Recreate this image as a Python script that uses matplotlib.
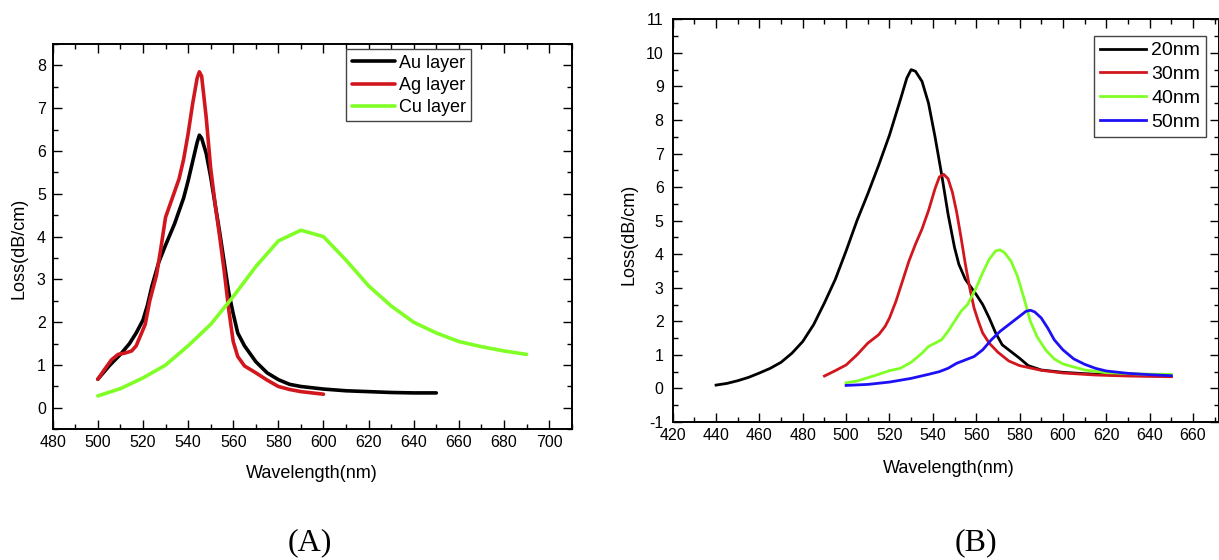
import matplotlib
matplotlib.use("Agg")
import matplotlib.pyplot as plt
from matplotlib.ticker import MultipleLocator

plt.rcParams['font.family'] = ['Liberation Sans', 'DejaVu Sans']
plt.rcParams['axes.unicode_minus'] = False

# (A) loss vs wavelength for different metal layers
au_x = [500, 505, 510, 514, 517, 520, 522, 524, 527, 530, 534, 538, 540, 542, 544, 545, 546,
        548, 550, 552, 554, 556, 558, 560, 562, 565, 570, 575, 580, 585, 590, 600, 610, 620,
        630, 640, 650]
au_y = [0.67, 0.98, 1.25, 1.5, 1.75, 2.05, 2.4, 2.85, 3.4, 3.8, 4.3, 4.9, 5.3, 5.75, 6.2, 6.37, 6.3,
        5.95, 5.4, 4.75, 4.1, 3.4, 2.7, 2.2, 1.75, 1.45, 1.08, 0.82, 0.66, 0.55, 0.5, 0.44, 0.4, 0.38,
        0.36, 0.35, 0.35]

ag_x = [500, 503, 506, 509, 512, 515, 517, 519, 521, 523, 526, 528, 530, 533, 536, 538, 540, 542,
        544, 545, 546, 548, 550, 552, 554, 556, 558, 560, 562, 565, 570, 575, 580, 585, 590, 595, 600]
ag_y = [0.67, 0.9, 1.12, 1.25, 1.28, 1.33, 1.45, 1.7, 1.95, 2.5, 3.1, 3.75, 4.45, 4.9, 5.35, 5.8, 6.4, 7.1,
        7.7, 7.85, 7.75, 6.8, 5.6, 4.75, 4.0, 3.2, 2.3, 1.55, 1.2, 0.98, 0.82, 0.65, 0.5, 0.43, 0.38, 0.35, 0.32]

cu_x = [500, 510, 520, 530, 540, 550, 560, 570, 580, 590, 600, 610, 620, 630, 640, 650, 660, 670, 680, 690]
cu_y = [0.28, 0.45, 0.7, 1.0, 1.45, 1.95, 2.6, 3.3, 3.9, 4.15, 4.0, 3.45, 2.85, 2.38, 2.0, 1.75, 1.55,
        1.43, 1.33, 1.25]

# (B) loss vs wavelength for different layer thickness
nm20_x = [440, 445, 450, 455, 460, 465, 470, 475, 480, 485, 490, 495, 500, 505, 510, 515, 520, 525,
          528, 530, 532, 535, 538, 541, 544, 547, 550, 552, 555, 558, 560, 563, 566, 569, 572, 576,
          580, 584, 590, 600, 610, 620, 635, 650]
nm20_y = [0.1, 0.15, 0.23, 0.33, 0.46, 0.6, 0.78, 1.05, 1.4, 1.9, 2.55, 3.25, 4.1, 5.0, 5.8, 6.65, 7.55,
          8.6, 9.25, 9.5, 9.45, 9.15, 8.5, 7.5, 6.4, 5.2, 4.2, 3.7, 3.25, 2.98, 2.8, 2.5, 2.1, 1.65, 1.3,
          1.1, 0.9, 0.68, 0.55, 0.48, 0.44, 0.41, 0.38, 0.37]

nm30_x = [490, 495, 500, 505, 510, 515, 518, 520, 523, 526, 529, 532, 535, 538, 541, 543, 545, 547,
          549, 551, 553, 555, 557, 559, 561, 563, 566, 570, 575, 580, 590, 600, 615, 630, 650]
nm30_y = [0.37, 0.53, 0.7, 1.0, 1.35, 1.6, 1.85, 2.1, 2.6, 3.2, 3.8, 4.3, 4.75, 5.3, 5.95, 6.3, 6.38, 6.25,
          5.85, 5.25, 4.5, 3.7, 3.0, 2.4, 2.0, 1.65, 1.35, 1.08, 0.82, 0.68, 0.54, 0.46, 0.4, 0.37, 0.35]

nm40_x = [500, 505, 510, 515, 520, 525, 530, 535, 538, 541, 544, 547, 550, 553, 556, 558, 560, 563,
          566, 569, 571, 573, 576, 579, 582, 585, 588, 592, 596, 600, 610, 620, 635, 650]
nm40_y = [0.17, 0.22, 0.32, 0.42, 0.53, 0.6, 0.78, 1.05, 1.25, 1.35, 1.45, 1.7, 2.0, 2.3, 2.5, 2.75, 3.0,
          3.45, 3.85, 4.1, 4.13, 4.05, 3.8, 3.35, 2.7, 2.0, 1.55, 1.15, 0.88, 0.73, 0.55, 0.47, 0.43, 0.42]

nm50_x = [500, 510, 520, 530, 538, 543, 547, 551, 555, 559, 563, 567, 571, 575, 579, 583, 585, 587,
          590, 593, 596, 600, 605, 610, 615, 620, 630, 640, 650]
nm50_y = [0.09, 0.12, 0.19, 0.3, 0.42, 0.5, 0.6, 0.75, 0.85, 0.95, 1.15, 1.45, 1.7, 1.9, 2.1, 2.3, 2.33,
          2.28, 2.1, 1.8, 1.45, 1.15, 0.88, 0.72, 0.6, 0.52, 0.45, 0.41, 0.38]

black = '#000000'
red = '#d2161e'
green = '#80ff26'
blue = '#1e10f5'


def style_axes(ax, xmaj, ymaj, ypad):
    ax.xaxis.set_major_locator(MultipleLocator(xmaj))
    ax.xaxis.set_minor_locator(MultipleLocator(xmaj / 2))
    ax.yaxis.set_major_locator(MultipleLocator(ymaj))
    ax.yaxis.set_minor_locator(MultipleLocator(ymaj / 2))
    ax.tick_params(which='both', direction='in', top=True, right=True, width=1.0)
    ax.tick_params(which='major', length=6.5, labelsize=11.5)
    ax.tick_params(which='minor', length=3.5)
    ax.tick_params(axis='x', pad=4)
    ax.tick_params(axis='y', pad=ypad)
    for s in ax.spines.values():
        s.set_linewidth(1.4)


fig = plt.figure(figsize=(12.19, 5.6), dpi=100)

# panel A
ax1 = fig.add_axes([0.04323, 0.23339, 0.42576, 0.68804])
ax1.plot(au_x, au_y, color=black, lw=2.6, label='Au layer', solid_capstyle='round')
ax1.plot(ag_x, ag_y, color=red, lw=2.6, label='Ag layer', solid_capstyle='round')
ax1.plot(cu_x, cu_y, color=green, lw=2.6, label='Cu layer', solid_capstyle='round')
ax1.set_xlim(480, 710)
ax1.set_ylim(-0.5, 8.5)
style_axes(ax1, 20, 1, 5)
ax1.set_xlabel('Wavelength(nm)', fontsize=13)
ax1.set_ylabel('Loss(dB/cm)', fontsize=13)
ax1.xaxis.set_label_coords(0.4987, -0.0927)
ax1.yaxis.set_label_coords(-0.0484, 0.47)
leg1 = ax1.legend(loc='upper right', bbox_to_anchor=(0.806, 0.986), borderaxespad=0,
                  fontsize=13, handlelength=2.4, handletextpad=0.2, labelspacing=0.28,
                  borderpad=0.3, fancybox=False, framealpha=1)
leg1.get_frame().set_edgecolor('#444444')
leg1.get_frame().set_linewidth(1.0)

# panel B
ax2 = fig.add_axes([0.55185, 0.24643, 0.44815, 0.71911])
ax2.plot(nm20_x, nm20_y, color=black, lw=2.0, label='20nm')
ax2.plot(nm30_x, nm30_y, color=red, lw=2.0, label='30nm')
ax2.plot(nm40_x, nm40_y, color=green, lw=2.0, label='40nm')
ax2.plot(nm50_x, nm50_y, color=blue, lw=2.0, label='50nm')
ax2.set_xlim(420, 672)
ax2.set_ylim(-1, 11)
style_axes(ax2, 20, 1, 6.5)
ax2.set_xlabel('Wavelength(nm)', fontsize=13)
ax2.set_ylabel('Loss(dB/cm)', fontsize=13)
ax2.xaxis.set_label_coords(0.506, -0.0944)
ax2.yaxis.set_label_coords(-0.0653, 0.467)
leg2 = ax2.legend(loc='upper right', bbox_to_anchor=(0.976, 0.9585), borderaxespad=0,
                  fontsize=14, handlelength=2.4, handletextpad=0.25, labelspacing=0.32,
                  borderpad=0.3, fancybox=False, framealpha=1)
leg2.get_frame().set_edgecolor('#444444')
leg2.get_frame().set_linewidth(1.0)

fig.text(0.254, 0.018, '(A)', fontsize=23, family=['Liberation Serif', 'DejaVu Serif'],
         ha='center', va='baseline')
fig.text(0.801, 0.018, '(B)', fontsize=23, family=['Liberation Serif', 'DejaVu Serif'],
         ha='center', va='baseline')

fig.savefig('out.png', dpi=100)
